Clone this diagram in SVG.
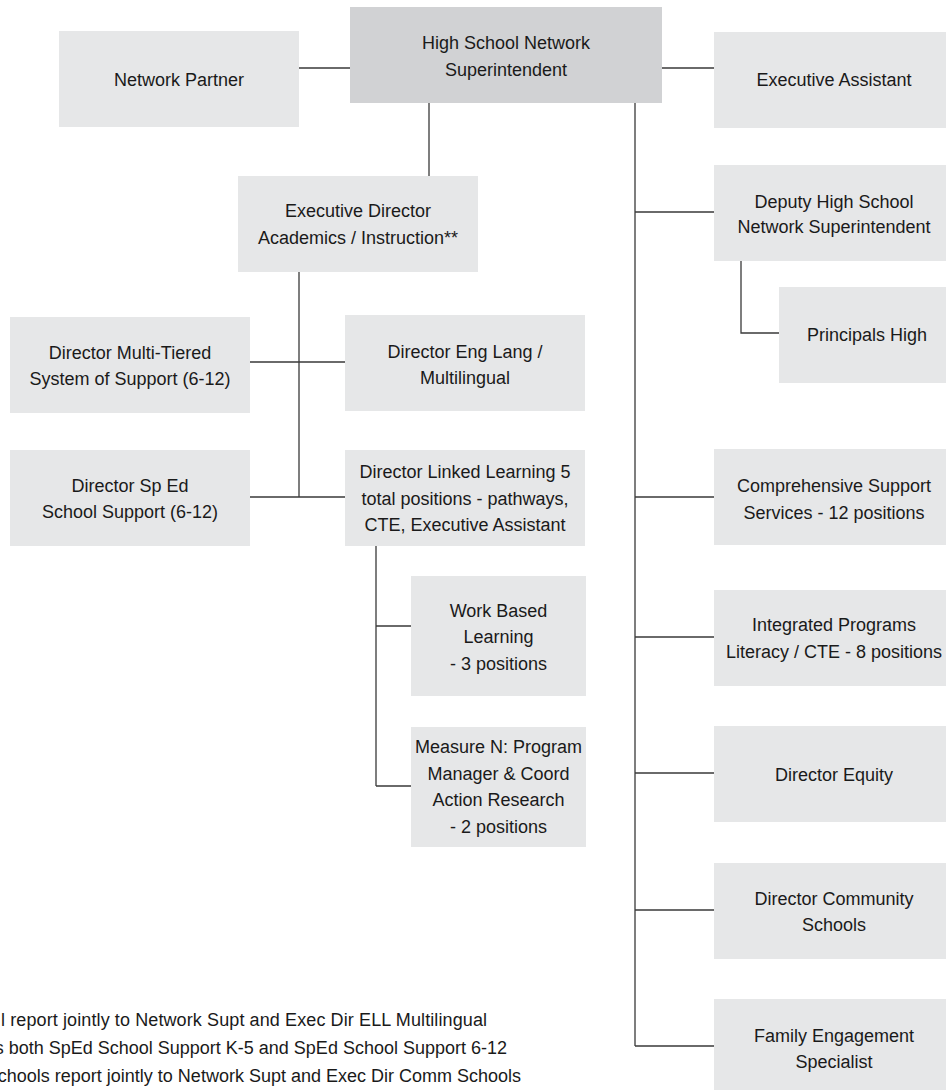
<svg xmlns="http://www.w3.org/2000/svg" width="946" height="1090" viewBox="0 0 946 1090">
<style>
.box{fill:#e6e7e8}
.top{fill:#d1d2d4}
text{font-family:"Liberation Sans",Arial,sans-serif;font-size:18px;fill:#1a1a1a;text-anchor:middle}
.note{text-anchor:end}
.ln{stroke:#3a3a3a;stroke-width:1.3;fill:none}
</style>
<rect width="946" height="1090" fill="#ffffff"/>
<g id="connectors">
<path class="ln" d="M299,68H350M662,68H714M429,103V176M635,103V1046M635,212H714M635,497H714M635,637H714M635,773H714M635,910H714M635,1046H714M741,261V333H779M299,272V497M250,362H345M250,497H345M376,546V786M376,626H411M376,786H411"/>
</g>
<g id="sup"><rect class="top" x="350" y="7" width="312" height="96"/><text x="506" y="49">High School Network</text><text x="506" y="75.5">Superintendent</text></g>
<g id="partner"><rect class="box" x="59" y="31" width="240" height="96"/><text x="179" y="86">Network Partner</text></g>
<g id="execasst"><rect class="box" x="714" y="32" width="240" height="96"/><text x="834" y="86">Executive Assistant</text></g>
<g id="execdir"><rect class="box" x="238" y="176" width="240" height="96"/><text x="358" y="217">Executive Director</text><text x="358" y="243.5">Academics / Instruction**</text></g>
<g id="deputy"><rect class="box" x="714" y="165" width="240" height="96"/><text x="834" y="208">Deputy High School</text><text x="834" y="233">Network Superintendent</text></g>
<g id="principals"><rect class="box" x="779" y="287" width="240" height="96"/><text x="867" y="341">Principals High</text></g>
<g id="multitier"><rect class="box" x="10" y="317" width="240" height="96"/><text x="130" y="359">Director Multi-Tiered</text><text x="130" y="384.7">System of Support (6-12)</text></g>
<g id="englang"><rect class="box" x="345" y="315" width="240" height="96"/><text x="465" y="358">Director Eng Lang /</text><text x="465" y="384">Multilingual</text></g>
<g id="sped"><rect class="box" x="10" y="450" width="240" height="96"/><text x="130" y="492.4">Director Sp Ed</text><text x="130" y="518">School Support (6-12)</text></g>
<g id="linked"><rect class="box" x="345" y="450" width="240" height="96"/><text x="465" y="478">Director Linked Learning 5</text><text x="465" y="504.5">total positions - pathways,</text><text x="465" y="531">CTE, Executive Assistant</text></g>
<g id="csss"><rect class="box" x="714" y="449" width="240" height="96"/><text x="834" y="492">Comprehensive Support</text><text x="834" y="518.7">Services - 12 positions</text></g>
<g id="workbased"><rect class="box" x="411" y="576" width="175" height="120"/><text x="498.5" y="616.5">Work Based</text><text x="498.5" y="643">Learning</text><text x="498.5" y="669.5">- 3 positions</text></g>
<g id="measure"><rect class="box" x="411" y="727" width="175" height="120"/><text x="498.5" y="753">Measure N: Program</text><text x="498.5" y="779.7">Manager &amp; Coord</text><text x="498.5" y="806.4">Action Research</text><text x="498.5" y="833">- 2 positions</text></g>
<g id="integrated"><rect class="box" x="714" y="590" width="240" height="96"/><text x="834" y="631.4">Integrated Programs</text><text x="834" y="658">Literacy / CTE - 8 positions</text></g>
<g id="equity"><rect class="box" x="714" y="726" width="240" height="96"/><text x="834" y="781">Director Equity</text></g>
<g id="community"><rect class="box" x="714" y="863" width="240" height="96"/><text x="834" y="904.5">Director Community</text><text x="834" y="931">Schools</text></g>
<g id="family"><rect class="box" x="714" y="999" width="240" height="96"/><text x="834" y="1041.5">Family Engagement</text><text x="834" y="1068">Specialist</text></g>
<g id="footnote">
<text x="1" y="1026" style="text-anchor:start" textLength="486" lengthAdjust="spacing">l report jointly to Network Supt and Exec Dir ELL Multilingual</text>
<text class="note" x="507" y="1054">s both SpEd School Support K-5 and SpEd School Support 6-12</text>
<text class="note" x="521" y="1082">chools report jointly to Network Supt and Exec Dir Comm Schools</text>
</g>
</svg>
